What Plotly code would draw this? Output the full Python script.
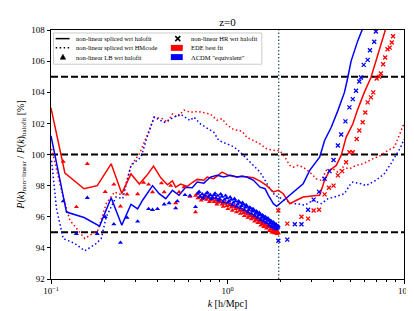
import plotly.graph_objects as go

# ---------------- data ----------------
k_ede_halofit = [0.1, 0.1199, 0.1539, 0.1828, 0.2192, 0.2518, 0.2840, 0.3166, 0.3493, 0.3810,
                 0.4188, 0.4568, 0.4874, 0.5086, 0.5426, 0.5918, 0.6314, 0.6737, 0.7346, 0.7667,
                 0.8364, 0.9313, 1.016, 1.131, 1.207, 1.287, 1.404, 1.529, 1.668, 1.819, 1.941,
                 2.070, 2.255, 2.460, 2.683, 3.187, 3.327, 3.549, 3.786, 4.130, 4.406, 4.700,
                 5.126, 5.468, 5.957, 6.497, 6.932, 7.396, 7.890]
v_ede_halofit = [103.0, 98.8, 97.8, 98.0, 99.4, 97.5, 98.75, 98.1, 98.66, 99.25,
                 98.5, 98.05, 98.3, 97.9, 98.1, 97.95, 98.2, 98.4, 98.35, 98.55,
                 98.45, 98.87, 98.66, 98.55, 98.6, 98.55, 98.5, 98.29, 98.0, 97.59, 97.7,
                 97.48, 96.84, 97.06, 97.27, 97.37, 97.38, 98.34, 98.98, 99.3, 99.94, 101.1,
                 101.96, 102.9, 103.99, 104.95, 106.0, 106.98, 108.1]

k_lcdm_halofit = [0.1, 0.1224, 0.1539, 0.1886, 0.2192, 0.2518, 0.2840, 0.3097, 0.3304, 0.3761,
                  0.4102, 0.4469, 0.4874, 0.5315, 0.5789, 0.6314, 0.6737, 0.7346, 0.8001, 0.8730,
                  0.9519, 1.037, 1.131, 1.207, 1.287, 1.404, 1.529, 1.632, 1.705, 1.819, 1.898,
                  2.025, 2.255, 2.460, 2.683, 2.922, 3.327, 3.549, 3.871, 4.220, 4.598, 4.805,
                  5.014, 5.468, 5.834]
v_lcdm_halofit = [101.2, 96.3, 95.95, 95.4, 97.22, 95.46, 96.8, 96.5, 97.06, 98.0,
                  97.48, 97.16, 97.7, 97.38, 97.9, 97.86, 98.23, 98.16, 98.55, 98.66,
                  98.55, 98.66, 98.55, 98.6, 98.55, 98.34, 97.9, 97.8, 97.38, 96.84, 96.67,
                  96.95, 97.38, 97.8, 98.12, 98.98, 99.83, 100.9, 101.75, 102.82, 103.99, 104.95,
                  106.0, 107.3, 108.1]

k_ede_hmcode = [0.1008, 0.1147, 0.1279, 0.1553, 0.1845, 0.2055, 0.2291, 0.2550, 0.2840, 0.3166,
                0.3525, 0.3844, 0.4281, 0.4568, 0.4874, 0.5200, 0.5670, 0.6178, 0.6737, 0.7346,
                0.8001, 0.8730, 0.9313, 0.9935, 1.084, 1.207, 1.287, 1.404, 1.529, 1.668, 1.857,
                1.982, 2.113, 2.255, 2.357, 2.514, 2.683, 2.922, 3.187, 3.400, 3.628, 3.957,
                4.220, 4.503, 4.906, 5.349, 5.834, 6.643, 7.396, 8.066, 8.786, 8.982, 9.795, 10.0]
v_ede_hmcode = [100.36, 97.7, 95.78, 94.6, 95.14, 96.84, 97.59, 97.38, 99.3, 100.04,
                101.3, 102.4, 102.3, 102.07, 102.6, 102.4, 102.85, 102.7, 102.77, 102.7,
                102.6, 102.2, 102.3, 101.9, 101.6, 101.5, 101.1, 100.9, 100.68, 100.36, 100.25,
                100.25, 99.83, 99.3, 99.19, 99.3, 99.19, 98.87, 98.44, 98.34, 98.98, 99.08,
                98.87, 99.19, 99.08, 99.3, 99.4, 99.72, 99.94, 100.25, 100.47, 100.68, 101.75, 102.0]

k_lcdm_hmcode = [0.1008, 0.1075, 0.1173, 0.1365, 0.1553, 0.1805, 0.1926, 0.2055, 0.2192, 0.2339,
                 0.2550, 0.2840, 0.3233, 0.3525, 0.3844, 0.4377, 0.4982, 0.5426, 0.6130, 0.6454,
                 0.7031, 0.7667, 0.8364, 0.8923, 0.9935, 1.084, 1.180, 1.287, 1.404, 1.529, 1.632,
                 1.741, 1.857, 1.941, 2.113, 2.357, 2.460, 2.739, 3.053, 3.400, 3.709, 4.040,
                 4.598, 4.906, 5.126, 5.707, 6.090, 6.932, 7.718, 8.418, 8.982, 9.581, 10.0]
v_lcdm_hmcode = [99.6, 96.5, 94.6, 94.28, 93.81, 94.28, 94.6, 95.99, 96.63, 97.27,
                 97.16, 99.3, 99.83, 101.2, 102.4, 102.07, 102.4, 102.6, 102.18, 102.4,
                 101.96, 101.7, 101.43, 100.9, 100.68, 100.5, 100.15, 99.72, 99.3, 98.87, 98.34,
                 97.8, 97.38, 97.27, 97.06, 96.84, 96.84, 96.74, 97.06, 96.84, 97.16, 97.27,
                 97.48, 98.0, 98.23, 98.12, 98.0, 98.34, 98.76, 99.4, 99.94, 100.47, 101.0]

k_ede_lb = [0.1173, 0.1393, 0.1606, 0.2028, 0.2270, 0.2475, 0.2697, 0.3097, 0.3347, 0.3571,
            0.3761, 0.4227, 0.4377, 0.4768, 0.5086, 0.5315, 0.5670, 0.6130, 0.6590,
            0.66, 0.68, 0.70, 0.72, 0.74, 0.76, 0.78, 0.80, 0.82, 0.84, 0.86, 0.88, 0.90,
            0.93, 0.96, 0.99, 1.02, 1.05, 1.08, 1.11, 1.14, 1.17, 1.20, 1.23, 1.26, 1.29,
            1.32, 1.35, 1.38, 1.41, 1.44, 1.47, 1.50, 1.53, 1.56, 1.59, 1.62, 1.65, 1.68,
            1.71, 1.74, 1.77, 1.80, 1.83, 1.86, 1.89, 1.92, 1.94,
            0.67, 0.71, 0.75, 0.79, 0.83, 0.87, 0.915, 0.945, 0.975, 1.005, 1.035, 1.065,
            1.095, 1.125, 1.155, 1.185, 1.215, 1.245, 1.275, 1.305, 1.335, 1.365, 1.395,
            1.425, 1.455, 1.485, 1.515, 1.545, 1.575, 1.605, 1.635, 1.665, 1.695, 1.725,
            1.755, 1.785, 1.815, 1.845, 1.875, 1.905, 1.93]
v_ede_lb = [99.55, 96.63, 99.4, 97.6, 98.08, 96.67, 97.44, 97.46, 98.2, 98.08,
            97.59, 98.16, 97.59, 98.0, 96.88, 97.59, 97.9, 97.3, 96.3,
            97.35, 97.2, 97.3, 97.15, 97.25, 97.1, 97.2, 97.05, 97.1, 96.95, 97.05, 96.9, 96.95,
            96.8, 96.85, 96.7, 96.75, 96.6, 96.65, 96.5, 96.55, 96.4, 96.4, 96.25, 96.3, 96.15,
            96.2, 96.05, 96.1, 95.95, 95.95, 95.8, 95.85, 95.7, 95.7, 95.55, 95.6, 95.45, 95.5,
            95.35, 95.4, 95.25, 95.3, 95.15, 95.15, 95.05, 95.05, 94.95,
            97.45, 97.05, 97.35, 96.95, 97.2, 96.8, 97.05, 96.65, 96.9, 96.5, 96.8, 96.4,
            96.7, 96.3, 96.55, 96.2, 96.45, 96.05, 96.3, 95.95, 96.15, 95.85, 96.0,
            95.7, 95.85, 95.6, 95.7, 95.45, 95.6, 95.35, 95.45, 95.25, 95.35, 95.1,
            95.2, 95.0, 95.1, 94.95, 95.0, 94.9, 94.95]

k_lcdm_lb = [0.1173, 0.1393, 0.1606, 0.1828, 0.2028, 0.2270, 0.2475, 0.2697, 0.3097, 0.3571,
             0.3761, 0.4013, 0.4377, 0.4670, 0.5086, 0.5200, 0.5744, 0.6130, 0.6590,
             0.68, 0.70, 0.72, 0.74, 0.76, 0.78, 0.80, 0.82, 0.84, 0.86, 0.88, 0.90,
             0.93, 0.96, 0.99, 1.02, 1.05, 1.08, 1.11, 1.14, 1.17, 1.20, 1.23, 1.26, 1.29,
             1.32, 1.35, 1.38, 1.41, 1.44, 1.47, 1.50, 1.53, 1.56, 1.59, 1.62, 1.65, 1.68,
             1.71, 1.74, 1.77, 1.80, 1.83, 1.86, 1.89, 1.92, 1.94,
             0.69, 0.73, 0.77, 0.81, 0.85, 0.89, 0.915, 0.945, 0.975, 1.005, 1.035, 1.065,
             1.095, 1.125, 1.155, 1.185, 1.215, 1.245, 1.275, 1.305, 1.335, 1.365, 1.395,
             1.425, 1.455, 1.485, 1.515, 1.545, 1.575, 1.605, 1.635, 1.665, 1.695, 1.725,
             1.755, 1.785, 1.815, 1.845, 1.875, 1.905, 1.93]
v_lcdm_lb = [97.0, 94.9, 97.22, 94.9, 95.99, 95.52, 94.33, 95.94, 95.7, 96.5,
             96.45, 96.5, 96.8, 96.88, 96.55, 97.0, 97.4, 97.35, 96.63,
             97.5, 97.3, 97.45, 97.35, 97.5, 97.3, 97.4, 97.25, 97.4, 97.2, 97.35, 97.15,
             97.3, 97.1, 97.2, 97.0, 97.1, 96.9, 97.0, 96.8, 96.9, 96.7, 96.8, 96.6, 96.65,
             96.45, 96.55, 96.35, 96.4, 96.2, 96.3, 96.1, 96.15, 95.95, 96.05, 95.85, 95.9,
             95.75, 95.8, 95.6, 95.7, 95.5, 95.6, 95.4, 95.5, 95.35, 95.4,
             97.6, 97.2, 97.55, 97.15, 97.5, 97.05, 97.45, 96.95, 97.35, 96.9, 97.25, 96.75,
             97.15, 96.65, 97.0, 96.55, 96.9, 96.45, 96.75, 96.3, 96.6, 96.2, 96.5,
             96.05, 96.35, 95.95, 96.25, 95.8, 96.1, 95.7, 96.0, 95.6, 95.9, 95.45,
             95.75, 95.35, 95.65, 95.25, 95.5, 95.2, 95.3]

k_ede_hr = [1.941, 2.181, 2.624, 2.862, 3.077, 3.301, 3.549, 3.757, 3.988, 4.220, 4.463, 4.700,
            4.906, 5.126, 5.397, 5.582, 5.834, 6.035, 6.226, 6.497, 6.695, 6.995, 7.234, 7.396,
            7.619, 7.819, 8.066, 8.310, 8.527, 8.672]
v_ede_hr = [96.4, 95.56, 96.0, 95.88, 96.4, 96.45, 97.44, 97.86, 98.0, 98.66, 98.93, 99.5,
            100.15, 100.15, 101.0, 101.54, 102.07, 102.7, 103.35, 103.67, 103.99, 104.88, 104.99, 105.2,
            105.8, 106.23, 106.76, 106.87, 107.2, 107.6]

k_lcdm_hr = [1.941, 2.181, 2.406, 2.624, 2.862, 3.077, 3.301, 3.549, 3.786, 3.988, 4.220, 4.406,
             4.658, 4.906, 5.126, 5.349, 5.582, 5.707, 5.910, 6.226, 6.414, 6.782, 6.932]
v_lcdm_hr = [94.46, 94.53, 95.52, 95.52, 96.45, 97.1, 97.6, 98.44, 98.93, 99.65, 100.58, 101.28,
             102.13, 103.03, 103.56, 104.1, 104.69, 104.95, 105.76, 106.08, 106.7, 107.25, 107.9]

ref_levels = [95, 100, 105]
k_split = 1.95
x_range = [0.1, 10]
y_range = [92, 108]
y_ticks = [92, 94, 96, 98, 100, 102, 104, 106, 108]
x_ticks = [0.1, 1, 10]
x_ticktext = ["10<sup>\u22121</sup>", "10<sup>0</sup>", "10<sup>1</sup>"]
x_minor = [0.2, 0.3, 0.4, 0.5, 0.6, 0.7, 0.8, 0.9, 2, 3, 4, 5, 6, 7, 8, 9]

RED = "#ff0000"
BLUE = "#0000ff"
FONT = "Liberation Serif"

fig = go.Figure()

for lv in ref_levels:
    fig.add_trace(go.Scatter(x=x_range, y=[lv, lv], mode="lines",
                             line=dict(color="black", width=2, dash="7px,3px"),
                             showlegend=False, hoverinfo="skip"))
fig.add_trace(go.Scatter(x=[k_split, k_split], y=y_range, mode="lines",
                         line=dict(color="#2f5f5f", width=1.3, dash="1.5px,2px"),
                         showlegend=False, hoverinfo="skip"))

fig.add_trace(go.Scatter(x=k_ede_hmcode, y=v_ede_hmcode, mode="lines",
                         line=dict(color=RED, width=1.5, dash="1.5px,2.5px"), showlegend=False))
fig.add_trace(go.Scatter(x=k_lcdm_hmcode, y=v_lcdm_hmcode, mode="lines",
                         line=dict(color=BLUE, width=1.5, dash="1.5px,2.5px"), showlegend=False))
fig.add_trace(go.Scatter(x=k_ede_halofit, y=v_ede_halofit, mode="lines",
                         line=dict(color=RED, width=1.5), showlegend=False))
fig.add_trace(go.Scatter(x=k_lcdm_halofit, y=v_lcdm_halofit, mode="lines",
                         line=dict(color=BLUE, width=1.5), showlegend=False))
fig.add_trace(go.Scatter(x=k_ede_lb, y=v_ede_lb, mode="markers",
                         marker=dict(symbol="triangle-up", size=4.5, color=RED), showlegend=False))
fig.add_trace(go.Scatter(x=k_lcdm_lb, y=v_lcdm_lb, mode="markers",
                         marker=dict(symbol="triangle-up", size=4.5, color=BLUE), showlegend=False))
fig.add_trace(go.Scatter(x=k_ede_hr, y=v_ede_hr, mode="markers",
                         marker=dict(symbol="x-thin-open", size=4, color=RED,
                                     line=dict(color=RED, width=1.3)), showlegend=False))
fig.add_trace(go.Scatter(x=k_lcdm_hr, y=v_lcdm_hr, mode="markers",
                         marker=dict(symbol="x-thin-open", size=4, color=BLUE,
                                     line=dict(color=BLUE, width=1.3)), showlegend=False))

# ---------------- legend drawn as a box with keys (paper coordinates) ----------------
L, R, T, B = 43, 398, 22, 273


def px(x):
    return (x - L) / (R - L)


def py(y):
    return (B - y) / (B - T)


shapes = []
shapes.append(dict(type="rect", xref="paper", yref="paper", layer="above",
                   x0=px(45.5), x1=px(255), y0=py(56.5), y1=py(25),
                   fillcolor="rgba(255,255,255,0.85)", line=dict(color="#cccccc", width=1)))
shapes.append(dict(type="line", xref="paper", yref="paper", layer="above",
                   x0=px(47.7), x1=px(61.7), y0=py(30.7), y1=py(30.7),
                   line=dict(color="black", width=1.5)))
shapes.append(dict(type="line", xref="paper", yref="paper", layer="above",
                   x0=px(47.7), x1=px(61.7), y0=py(40), y1=py(40),
                   line=dict(color="black", width=1.5, dash="1.5px,2.5px")))
shapes.append(dict(type="path", xref="paper", yref="paper", layer="above",
                   path="M {:.5f},{:.5f} L {:.5f},{:.5f} L {:.5f},{:.5f} Z".format(
                       px(55), py(46.4), px(52.2), py(51.6), px(57.8), py(51.6)),
                   fillcolor="black", line=dict(color="black", width=0.5)))
shapes.append(dict(type="line", xref="paper", yref="paper", layer="above",
                   x0=px(168), x1=px(173), y0=py(28.2), y1=py(33.2),
                   line=dict(color="black", width=1.5)))
shapes.append(dict(type="line", xref="paper", yref="paper", layer="above",
                   x0=px(168), x1=px(173), y0=py(33.2), y1=py(28.2),
                   line=dict(color="black", width=1.5)))
shapes.append(dict(type="rect", xref="paper", yref="paper", layer="above",
                   x0=px(163.5), x1=px(175.5), y0=py(43), y1=py(37),
                   fillcolor=RED, line=dict(width=0)))
shapes.append(dict(type="rect", xref="paper", yref="paper", layer="above",
                   x0=px(163.5), x1=px(175.5), y0=py(52.3), y1=py(46.3),
                   fillcolor=BLUE, line=dict(width=0)))

leg_texts = [("non-linear spliced wrt halofit", 65.7, 30.7),
             ("non-linear spliced wrt HMcode", 65.7, 40.0),
             ("non-linear LB wrt halofit", 65.7, 49.3),
             ("non-linear HR wrt halofit", 181.7, 30.7),
             ("EDE best fit", 181.7, 40.0),
             ("\u039bCDM \"equivalent\"", 181.7, 49.3)]
annotations = []
for txt, xx, yy in leg_texts:
    annotations.append(dict(text=txt, xref="paper", yref="paper", x=px(xx), y=py(yy),
                            xanchor="left", yanchor="middle", showarrow=False,
                            font=dict(family=FONT, size=6.5, color="black")))

axis_common = dict(showline=True, linecolor="black", linewidth=1, mirror=True,
                   ticks="outside", tickcolor="black", ticklen=3.5, tickwidth=0.8,
                   showgrid=False, zeroline=False,
                   tickfont=dict(family=FONT, size=9, color="black"))

fig.update_layout(
    width=414, height=311,
    margin=dict(l=L, r=414 - R, t=T, b=311 - B),
    paper_bgcolor="white", plot_bgcolor="white",
    showlegend=False,
    title=dict(text="z=0", x=0.5, xref="paper", xanchor="center",
               y=1 - 14 / 311, yanchor="middle",
               font=dict(family=FONT, size=11, color="black")),
    xaxis=dict(type="log", range=[-1, 1], tickvals=x_ticks, ticktext=x_ticktext,
               minor=dict(tickvals=x_minor, ticks="outside", ticklen=2, tickcolor="black",
                          tickwidth=0.6),
               title=dict(text="<i>k</i> [h/Mpc]", font=dict(family=FONT, size=10, color="black"),
                          standoff=4),
               **axis_common),
    yaxis=dict(range=y_range, tickvals=y_ticks,
               title=dict(text="<i>P</i>(<i>k</i>)<sub>non\u2212linear</sub> / <i>P</i>(<i>k</i>)<sub>halofit</sub> [%]",
                          font=dict(family=FONT, size=10, color="black"), standoff=4),
               **axis_common),
    shapes=shapes,
    annotations=annotations,
)

fig.write_html("out.html")
